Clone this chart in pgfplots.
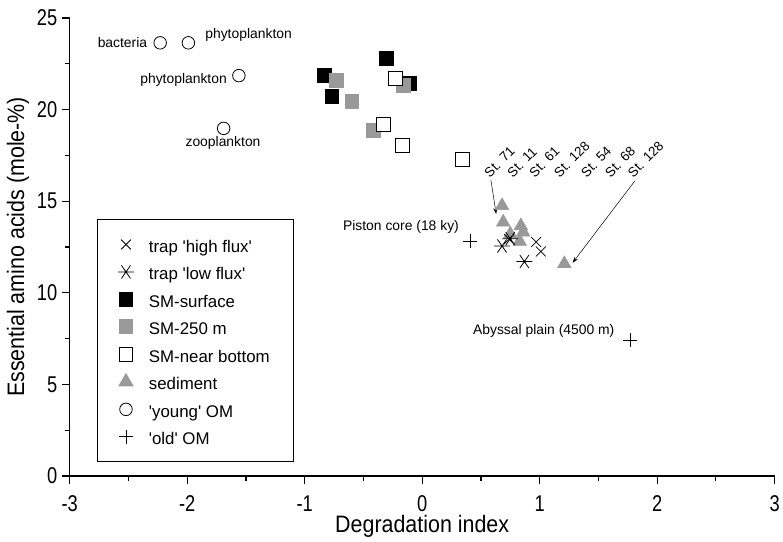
\documentclass[border=0pt]{standalone}
\usepackage{fontspec}
\setmainfont{Liberation Sans}
\newfontfamily\narrowfont[FakeStretch=0.8]{Liberation Sans}
\newfontfamily\labelfont[FakeStretch=0.9]{Liberation Sans}
\usepackage{pgfplots}
\pgfplotsset{compat=1.18}
\usetikzlibrary{arrows.meta}
\definecolor{stip}{gray}{0.6}
\pgfdeclareplotmark{astsix}{%
  \pgfpathmoveto{\pgfqpoint{-\pgfplotmarksize}{0pt}}\pgfpathlineto{\pgfqpoint{\pgfplotmarksize}{0pt}}%
  \pgfpathmoveto{\pgfqpoint{-0.57\pgfplotmarksize}{-0.82\pgfplotmarksize}}\pgfpathlineto{\pgfqpoint{0.57\pgfplotmarksize}{0.82\pgfplotmarksize}}%
  \pgfpathmoveto{\pgfqpoint{-0.57\pgfplotmarksize}{0.82\pgfplotmarksize}}\pgfpathlineto{\pgfqpoint{0.57\pgfplotmarksize}{-0.82\pgfplotmarksize}}%
  \pgfusepathqstroke
  \pgfpathcircle{\pgfpointorigin}{1.3pt}\pgfusepathqfill}
\begin{document}
\begin{tikzpicture}
\pgfplotsset{
  sHigh/.style={only marks, mark=x, mark size=7bp, mark options={black, line width=0.8bp}},
  sLow/.style={only marks, mark=astsix, mark size=8bp, mark options={black, fill=black, line width=0.8bp}},
  sSurf/.style={only marks, mark=square*, mark size=7bp, mark options={draw=black, fill=black}},
  s250/.style={only marks, mark=square*, mark size=7bp, mark options={draw=stip, fill=stip}},
  sNear/.style={only marks, mark=square*, mark size=7bp, mark options={draw=black, fill=white, line width=1bp}},
  sSed/.style={only marks, mark=triangle*, mark size=8bp, mark options={draw=stip, fill=stip}},
  sYoung/.style={only marks, mark=o, mark size=6.3bp, mark options={draw=black, fill=white, line width=0.8bp}},
  sOld/.style={only marks, mark=+, mark size=7bp, mark options={black, line width=0.8bp}},
}
\begin{axis}[
  name=ax,
  scale only axis, width=708bp, height=460bp,
  xmin=-3, xmax=3, ymin=0, ymax=25,
  axis x line=bottom, axis y line=left,
  axis line style={-, line width=1.3bp},
  xtick={-3,-2,-1,0,1,2,3}, xticklabels={-3,-2,-1,0,1,2,3},
  ytick={0,5,10,15,20,25}, yticklabels={0,5,10,15,20,25},
  minor x tick num=1, minor y tick num=1,
  tick align=outside,
  major tick length=8bp, minor tick length=5bp,
  every tick/.style={black, line width=1.2bp},
  tick label style={font=\narrowfont\fontsize{23}{23}\selectfont},
  xticklabel style={yshift=-8bp},
  yticklabel style={xshift=-1bp},
  xlabel={Degradation index},
  ylabel={Essential amino acids (mole-\%)},
  label style={font=\labelfont\fontsize{24}{24}\selectfont},
  xlabel style={at={(axis description cs:0.5,-0.109)}, anchor=center},
  ylabel style={at={(axis description cs:-0.0734,0.5)}, anchor=center},
  clip=false,
  legend style={at={(axis cs:-2.771,14.02)}, anchor=north west, draw=black, line width=1bp,
    font=\fontsize{17}{20}\selectfont, inner xsep=21bp, inner ysep=14bp,
    row sep=5.6bp, column sep=12bp,
    nodes={inner sep=3bp, text height=16bp, text depth=0bp}},
  legend cell align=left,
]
\addlegendimage{sHigh}\addlegendentry{trap \textquotesingle high flux\textquotesingle}
\addlegendimage{sLow}\addlegendentry{trap \textquotesingle low flux\textquotesingle}
\addlegendimage{sSurf}\addlegendentry{SM-surface}
\addlegendimage{s250}\addlegendentry{SM-250 m}
\addlegendimage{sNear}\addlegendentry{SM-near bottom}
\addlegendimage{sSed}\addlegendentry{sediment}
\addlegendimage{sYoung}\addlegendentry{\textquotesingle young\textquotesingle{} OM}
\addlegendimage{sOld}\addlegendentry{\textquotesingle old\textquotesingle{} OM}

\addplot[sSurf, forget plot] coordinates {(-0.83,21.85) (-0.77,20.75) (-0.31,22.8) (-0.11,21.45)};
\addplot[s250, forget plot] coordinates {(-0.73,21.6) (-0.60,20.45) (-0.16,21.35) (-0.42,18.85)};
\addplot[sNear, forget plot] coordinates {(-0.23,21.7) (-0.33,19.2) (-0.17,18.05) (0.34,17.25)};
\addplot[sSed, forget plot] coordinates {(0.68,14.75) (0.69,13.85) (0.75,13.2) (0.84,13.65) (0.83,12.8) (0.86,13.3) (1.21,11.58)};
\addplot[sHigh, forget plot] coordinates {(0.74,12.93) (0.97,12.77) (1.01,12.25)};
\addplot[sLow, forget plot] coordinates {(0.68,12.55) (0.75,12.95) (0.87,11.7)};
\addplot[sYoung, forget plot] coordinates {(-2.23,23.64) (-1.99,23.64) (-1.56,21.85) (-1.69,18.97)};
\addplot[sOld, forget plot] coordinates {(0.41,12.8) (1.77,7.42)};

\begin{scope}[every node/.style={font=\fontsize{14}{16}\selectfont, inner sep=0pt}]
\node[anchor=east] at (axis cs:-2.339,23.64) {bacteria};
\node[anchor=west] at (axis cs:-1.847,24.08) {phytoplankton};
\node[anchor=east] at (axis cs:-1.661,21.63) {phytoplankton};
\node[anchor=center] at (axis cs:-1.695,18.2) {zooplankton};
\node[anchor=east] at (axis cs:0.314,13.59) {Piston core (18 ky)};
\node[anchor=west] at (axis cs:0.432,7.93) {Abyssal plain (4500 m)};
\end{scope}
\begin{scope}[every node/.style={font=\fontsize{13.5}{15}\selectfont, inner sep=0pt, rotate=45, anchor=base west}]
\node at (axis cs:0.576,16.25) {St. 71};
\node at (axis cs:0.771,16.25) {St. 11};
\node at (axis cs:0.958,16.25) {St. 61};
\node at (axis cs:1.169,16.25) {St. 128};
\node at (axis cs:1.398,16.25) {St. 54};
\node at (axis cs:1.602,16.25) {St. 68};
\node at (axis cs:1.797,16.25) {St. 128};
\end{scope}
\draw[-{Stealth[length=6bp,width=4bp]}, line width=0.5bp] (axis cs:0.585,16.15) -- (axis cs:0.63,14.3);
\draw[-{Stealth[length=6bp,width=4bp]}, line width=0.5bp] (axis cs:1.81,16.1) -- (axis cs:1.28,11.63);
\end{axis}
\path (ax.south west) ++(-70bp,-66bp) rectangle ++(783bp,544bp);
\end{tikzpicture}
\end{document}
